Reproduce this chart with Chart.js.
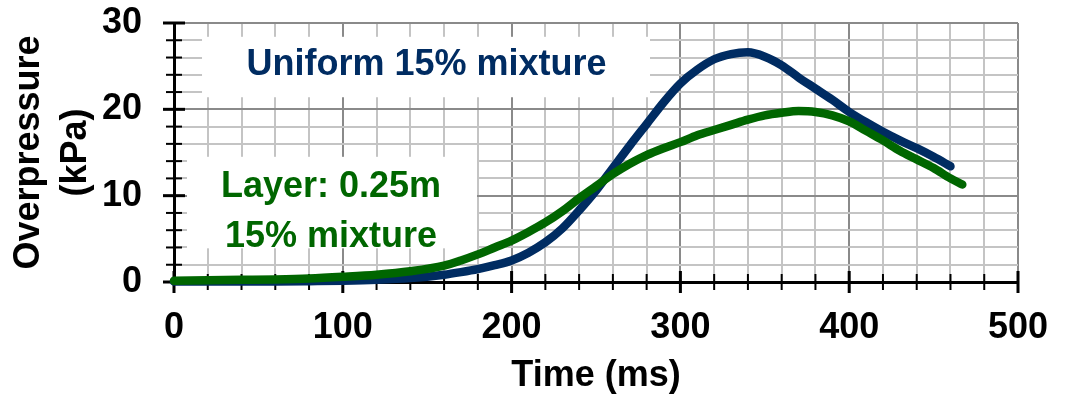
<!DOCTYPE html>
<html><head><meta charset="utf-8">
<script src="https://cdn.jsdelivr.net/npm/chart.js@4/dist/chart.umd.min.js"></script>
<style>html,body{margin:0;padding:0;background:#fff}</style>
</head><body>
<canvas id="c" width="1066" height="398"></canvas>
<script>
// ---- data ----
const timeUniform = [0,20,40,60,80,100,120,140,160,170,180,190,200,210,220,230,240,250,260,270,280,290,300,310,320,330,340,350,360,370,380,390,400,410,420,430,440,450,460];
const pressureUniform = [0.05,0.05,0.05,0.06,0.1,0.15,0.25,0.45,0.85,1.15,1.5,1.95,2.5,3.4,4.6,6.2,8.3,10.6,13.2,15.8,18.3,20.8,23.0,24.6,25.8,26.4,26.6,26.1,25.1,23.7,22.4,21.1,19.7,18.5,17.4,16.4,15.5,14.5,13.4];
const timeLayer = [0,20,40,60,80,100,120,140,160,170,180,190,200,210,220,230,240,250,260,270,280,290,300,310,320,330,340,350,360,370,380,390,400,410,420,430,440,450,460,467];
const pressureLayer = [0.15,0.2,0.25,0.3,0.4,0.6,0.85,1.25,1.9,2.5,3.2,4.0,4.8,5.8,6.9,8.2,9.7,11.1,12.5,13.7,14.7,15.5,16.2,17.0,17.6,18.2,18.8,19.3,19.6,19.8,19.7,19.3,18.6,17.5,16.4,15.2,14.2,13.2,12.0,11.3];
const xTickMin = 0, xTickMax = 500, xStep = 20, xLabelEvery = 100;
const yTickMin = 0, yTickMax = 30, yStep = 2, yLabelEvery = 10;
const xTitle = 'Time (ms)';
const yTitle = ['Overpressure', '(kPa)'];
const labelUniform = ['Uniform 15% mixture'];
const labelLayer = ['Layer: 0.25m', '15% mixture'];

// ---- styling ----
const FONT = "'Liberation Sans', Arial, sans-serif";
const BLUE = '#002C62';
const GREEN = '#006600';

// annotation boxes in data coordinates
const notes = [
  {t0: 16.6, t1: 282, p0: 28.4, p1: 21.4, tx: 149.6, baselines: [24.0], lines: labelUniform, color: BLUE},
  {t0: 7.7, t1: 179.5, p0: 14.5, p1: 3.9, tx: 93, baselines: [9.88, 4.09], lines: labelLayer, color: GREEN}
];

const deco = {
  id: 'deco',
  beforeDatasetsDraw(chart) {
    const {ctx, scales: {x, y}} = chart;
    ctx.save();
    for (const n of notes) {
      const x0 = x.getPixelForValue(n.t0), x1 = x.getPixelForValue(n.t1);
      const y0 = y.getPixelForValue(n.p0), y1 = y.getPixelForValue(n.p1);
      ctx.fillStyle = '#fff';
      ctx.fillRect(x0, y0, x1 - x0, y1 - y0);
      ctx.fillStyle = n.color;
      ctx.font = 'bold 36px ' + FONT;
      ctx.textAlign = 'center';
      ctx.textBaseline = 'alphabetic';
      n.lines.forEach((s, i) => ctx.fillText(s, x.getPixelForValue(n.tx), y.getPixelForValue(n.baselines[i])));
    }
    // tick marks crossing the axes
    ctx.strokeStyle = '#000';
    const ax = x.getPixelForValue(0), ay = y.getPixelForValue(0);
    for (const t of y.ticks) {
      const major = t.value % yLabelEvery === 0;
      const len = major ? 11 : 8;
      const py = y.getPixelForValue(t.value);
      ctx.lineWidth = major ? 3 : 2;
      ctx.beginPath(); ctx.moveTo(ax - len, py); ctx.lineTo(ax + len, py); ctx.stroke();
    }
    for (const t of x.ticks) {
      const major = t.value % xLabelEvery === 0;
      const len = major ? 11 : 8;
      const px = x.getPixelForValue(t.value);
      ctx.lineWidth = major ? 3 : 2;
      ctx.beginPath(); ctx.moveTo(px, ay - len); ctx.lineTo(px, ay + len); ctx.stroke();
    }
    ctx.restore();
  }
};

const toPts = (ts, ps) => ts.map((t, i) => ({x: t, y: ps[i]}));

new Chart(document.getElementById('c'), {
  type: 'line',
  data: {
    datasets: [
      {label: 'Layer 0.25m', data: toPts(timeLayer, pressureLayer), borderColor: GREEN, backgroundColor: GREEN},
      {label: 'Uniform', data: toPts(timeUniform, pressureUniform), borderColor: BLUE, backgroundColor: BLUE}
    ]
  },
  options: {
    responsive: false,
    animation: false,
    devicePixelRatio: 1,
    layout: {padding: {top: 23, right: 48, left: 0, bottom: 0}},
    elements: {
      point: {radius: 0},
      line: {borderWidth: 8.5, borderCapStyle: 'round', borderJoinStyle: 'round', cubicInterpolationMode: 'monotone'}
    },
    datasets: {line: {clip: false}},
    plugins: {legend: {display: false}, tooltip: {enabled: false}},
    scales: {
      x: {
        type: 'linear', min: xTickMin, max: xTickMax,
        afterFit(s) { s.height = 116; s.paddingLeft = 0; s.paddingRight = 0; },
        ticks: {stepSize: xStep, autoSkip: false, maxRotation: 0, padding: 24,
          color: '#000', font: {family: FONT, size: 36, weight: 'bold'},
          callback: v => (v % xLabelEvery === 0 ? String(v) : '')},
        grid: {drawTicks: false, lineWidth: 2,
          color: c => (c.tick && c.tick.value % xLabelEvery === 0 ? '#8a8a8a' : '#c4c4c4')},
        border: {display: true, color: '#000', width: 3},
        title: {display: true, text: xTitle, color: '#000', padding: {top: 0, bottom: 0},
          font: {family: FONT, size: 36, weight: 'bold', lineHeight: 1.2}}
      },
      y: {
        type: 'linear', min: yTickMin, max: yTickMax,
        afterFit(s) { s.width = 174; s.paddingTop = 0; s.paddingBottom = 0; },
        ticks: {stepSize: yStep, autoSkip: false, padding: 32,
          color: '#000', font: {family: FONT, size: 36, weight: 'bold'},
          callback: v => (v % yLabelEvery === 0 ? String(v) : '')},
        grid: {drawTicks: false, lineWidth: 2,
          color: c => (c.tick && c.tick.value % yLabelEvery === 0 ? '#8a8a8a' : '#c4c4c4')},
        border: {display: true, color: '#000', width: 3},
        title: {display: true, text: yTitle, color: '#000', padding: {top: 6, bottom: 0},
          font: {family: FONT, size: 36, weight: 'bold', lineHeight: 1.3}}
      }
    }
  },
  plugins: [deco]
});
</script></body></html>
